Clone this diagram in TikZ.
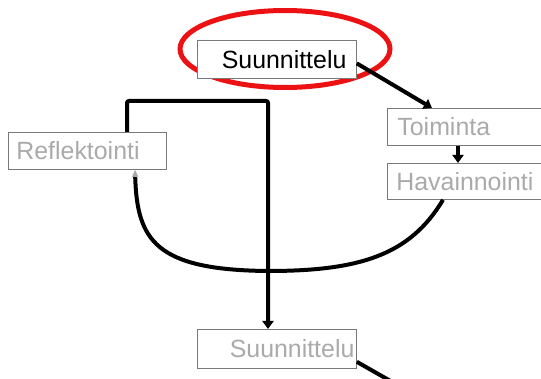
\documentclass[tikz,border=0pt]{standalone}
\usepackage{fontspec}
\setmainfont{Liberation Sans}
\usetikzlibrary{arrows.meta,shapes.geometric,calc}
\definecolor{hlred}{RGB}{236,18,20}
\definecolor{boxline}{RGB}{120,120,120}
\definecolor{faded}{RGB}{170,170,170}
\tikzset{
  box/.style={draw=boxline, line width=0.8pt, fill=white, rectangle,
    anchor=north west, inner ysep=0pt,
    font=\fontsize{24.9}{28}\selectfont},
  flow/.style={line width=4pt, line cap=butt},
  tip/.style={-{Triangle[length=8pt,width=11pt]}},
  ring/.style={draw=hlred, line width=5pt, ellipse}
}
\begin{document}
\begin{tikzpicture}[x=1pt,y=-1pt]
  \useasboundingbox (0,0) rectangle (541,379);
  \clip (0,0) rectangle (541,379);

  % highlight round the starting step
  \node[ring, minimum width=210pt, minimum height=77pt] (hl) at (285,49) {};

  % steps of the cycle
  \node[box, text=black, inner xsep=10pt, text width=139pt, align=right,
        minimum height=38pt] (plan) at (197,40) {Suunnittelu};
  \node[box, text=faded, inner xsep=10pt, text width=150pt, align=left,
        minimum height=37pt] (act) at (387,108) {Toiminta};
  \node[box, text=faded, inner xsep=9pt, text width=152pt, align=left,
        minimum height=36pt] (obs) at (387,163) {Havainnointi};
  \node[box, text=faded, inner xsep=8pt, text width=142pt, align=left,
        minimum height=37pt] (refl) at (8,132) {Reflektointi};
  \node[box, text=faded, inner xsep=2pt, text width=155pt, align=right,
        minimum height=39pt] (plan2) at (197,329) {Suunnittelu};

  % helper points
  \coordinate (loop) at (268,271);
  \coordinate (turn) at (268,101);
  \coordinate (away) at (394,383);

  % connectors
  \draw[flow, tip] ($(plan.east)+(0,4)$) -- ($(act.north west)+(45,0)$);
  \draw[flow, tip] ($(act.south west)+(71,0)$) -- ($(obs.north west)+(71,0)$);
  \draw[flow, -{Triangle[length=7pt,width=6pt,color=faded]}]
    ($(obs.south west)+(56,0)$)
      .. controls (410,255) and (360,271) .. (loop)
      .. controls (155,270) and (137,240) .. ($(refl.south west)+(127,0)$);
  \draw[flow, tip, rounded corners=2pt]
    ($(refl.north west)+(119,0)$) |- (turn) -- ($(plan2.north west)+(71,0)$);
  \draw[flow] ($(plan2.south east)+(0,-7)$) -- (away);
\end{tikzpicture}
\end{document}
